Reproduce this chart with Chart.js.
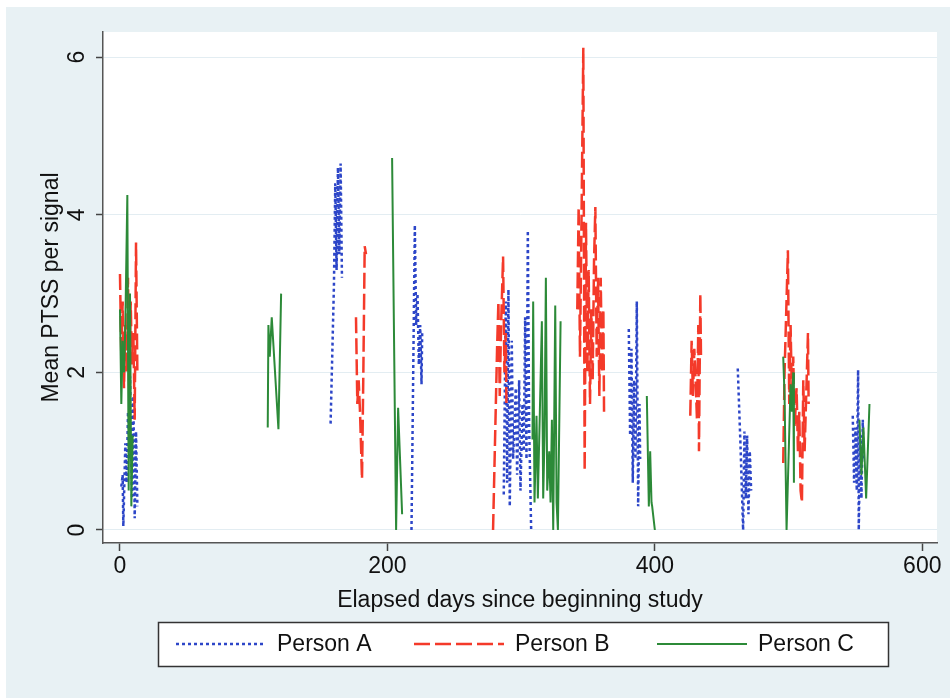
<!DOCTYPE html>
<html>
<head>
<meta charset="utf-8">
<script src="https://cdn.jsdelivr.net/npm/chart.js@4.4.1/dist/chart.umd.min.js"></script>
<style>
  html, body { margin: 0; padding: 0; background: #fff; }
  #wrap { width: 950px; height: 698px; position: relative; }
</style>
</head>
<body>
<div id="wrap"><canvas id="myChart" width="950" height="698"></canvas></div>
<script>
// tick labels
const xTicks = [0, 200, 400, 600];
const yTicks = [0, 2, 4, 6];

// Person A (null = break between measurement bursts)
const daysA = [1, 2, 2.5, 4, 5, 6, 7, 7.5, 9, 10, 11, 12, 13, null,
  157.5, 160, 161, 162, 163, 164, 165, 166, null,
  218, 220.5, 221.5, 222.5, 223.5, 224.5, 225.5, 226, null,
  287, 288.5, 289.5, 290.5, 291.5, 293, 294, 296, 297, 298.5, 299.5, 301, 302, 303, 304, 305, 306, 307.5, null,
  380.5, 381.5, 382.5, 383.5, 384.5, 385.5, 386.5, 387.5, 388.5, 389, null,
  462, 464, 466, 467, 468, 469, 470, 471, 472, null,
  548, 549, 550, 551, 552, 552.5, 553.5, 554.5, 555.5, 556];
const ptssA = [0.55, 0.7, 0.05, 1.1, 0.6, 1.5, 0.9, 1.95, 0.4, 1.7, 0.15, 1.25, 0.3, null,
  1.35, 3.1, 4.4, 3.3, 4.6, 3.5, 4.65, 3.2, null,
  0, 3.87, 2.6, 3.0, 2.1, 2.6, 1.85, 2.5, null,
  0.45, 2.9, 0.6, 3.05, 0.3, 2.4, 0.9, 1.8, 0.7, 1.9, 0.5, 1.6, 1.0, 2.7, 0.9, 3.8, 1.3, 0, null,
  2.55, 1.2, 2.3, 0.6, 1.9, 0.9, 2.9, 0.3, 1.6, 0.9, null,
  2.05, 1.1, 0, 1.25, 0.4, 1.2, 0.2, 1.0, 0.5, null,
  1.45, 0.6, 1.3, 0.5, 2.03, 0, 1.2, 0.4, 1.4, 0.9];

// Person B
const daysB = [0, 1, 2, 3, 4, 5, 6, 7, 8, 9, 10, 11, 12, 13, null,
  176.5, 177.5, 178.5, 179.5, 181, 182, 183, 184, null,
  279, 282, 283, 284, 285, 286.5, 287.5, 288.5, 289, null,
  342, 343, 344, 345, 346.5, 347.5, 348.5, 349.5, 350.5, 351.5, 352.5, 353.5, 354.5, 355.5, 356.5, 357.5, 358.5, 359.5, 360.5, 361.5, 362, null,
  426.5, 427.5, 428.5, 429.5, 430.5, 431.5, 432.5, 433, 434, 434.5, null,
  496, 497, 499.5, 500.5, 501.5, 502.5, 503.5, 504.5, 506, 507, 508, 509, 510, 511, 512, 514.5, 515];
const ptssB = [3.25, 2.2, 2.9, 1.8, 2.6, 2.0, 3.2, 1.7, 2.9, 2.1, 2.5, 1.4, 3.65, 2.0, null,
  2.7, 1.6, 1.9, 1.5, 0.65, 2.0, 3.6, 3.5, null,
  0, 2.3, 2.9, 1.7, 2.6, 3.47, 2.0, 2.5, 1.6, null,
  2.8, 4.1, 2.2, 3.7, 6.12, 0.75, 3.9, 2.0, 3.3, 1.6, 2.8, 1.9, 3.4, 4.1, 2.2, 3.2, 1.7, 3.2, 2.0, 2.8, 1.5, null,
  1.45, 2.4, 1.7, 2.3, 1.9, 1.4, 2.6, 1.0, 3.0, 2.2, null,
  0.85, 2.0, 3.55, 1.6, 2.6, 1.7, 2.2, 1.3, 1.8, 1.0, 1.5, 0.5, 0.35, 1.9, 1.0, 2.5, 1.6];

// Person C
const daysC = [0, 1, 2, 3, 4, 5.5, 6.5, 7.5, 8.5, 9.5, null,
  110.5, 111, 112, 113.5, 118.5, 120.5, null,
  203.5, 206.5, 208, 211, null,
  308.5, 309, 310, 311.5, 312.5, 314, 315.5, 316.5, 317.5, 318.5, 319.5, 321, 322, 323, 324, 325.5, 326.5, 327.5, 329.5, null,
  394, 395.5, 396.5, 397.5, 398, 400, null,
  496, 497, 498.5, 501.5, 502.5, 503.5, 504, null,
  553, 554.5, 556, 558, 560.5];
const ptssC = [2.8, 1.6, 2.4, 2.0, 2.6, 4.25, 0.5, 3.0, 0.3, 1.2, null,
  1.3, 2.6, 2.2, 2.7, 1.28, 3.0, null,
  4.72, 0, 1.55, 0.2, null,
  1.15, 2.9, 0.35, 1.45, 0.4, 1.5, 2.65, 0.4, 1.2, 3.2, 0.5, 1.0, 0.35, 1.4, 0, 2.85, 0.35, 0, 2.65, null,
  1.7, 0.3, 1.0, 0.35, 0.3, 0, null,
  2.2, 1.7, 0, 1.85, 1.5, 2.0, 0.6, null,
  1.4, 0.7, 1.3, 0.4, 1.6];

const FONT = "'Liberation Sans', Arial, Helvetica, sans-serif";
const pts = (days, vals) => days.map((d, i) => ({ x: d, y: vals[i] }));

// backgrounds + framed legend (Stata look)
const stataLook = {
  id: 'stataLook',
  beforeDraw(chart) {
    const { ctx, chartArea: a } = chart;
    ctx.save();
    ctx.fillStyle = '#ffffff';
    ctx.fillRect(0, 0, chart.width, chart.height);
    ctx.fillStyle = '#e8f1f4';
    ctx.fillRect(6, 7, chart.width - 6, chart.height - 7);
    ctx.fillStyle = '#ffffff';
    ctx.fillRect(a.left, a.top, a.right - a.left, a.bottom - a.top);
    ctx.restore();
  },
  afterDraw(chart) {
    const ctx = chart.ctx;
    ctx.save();
    ctx.fillStyle = '#ffffff';
    ctx.fillRect(158, 622, 730, 44);
    ctx.strokeStyle = '#333333';
    ctx.lineWidth = 1.5;
    ctx.strokeRect(158.5, 622.5, 730, 44);
    const starts = [176, 414, 657];
    chart.data.datasets.forEach((ds, i) => {
      const x0 = starts[i], y = 644;
      ctx.beginPath();
      ctx.setLineDash(ds.borderDash || []);
      ctx.strokeStyle = ds.borderColor;
      ctx.lineWidth = ds.borderWidth;
      ctx.moveTo(x0, y);
      ctx.lineTo(x0 + 90, y);
      ctx.stroke();
      ctx.setLineDash([]);
      ctx.fillStyle = '#111';
      ctx.font = '23px ' + FONT;
      ctx.textBaseline = 'middle';
      ctx.fillText(ds.label, x0 + 101, y + 1);
    });
    ctx.restore();
  }
};

const ctx = document.getElementById('myChart').getContext('2d');
new Chart(ctx, {
  type: 'line',
  data: {
    datasets: [
      { label: 'Person A', data: pts(daysA, ptssA), borderColor: '#2d46c8', borderWidth: 2.5, borderDash: [3, 3], order: 3 },
      { label: 'Person B', data: pts(daysB, ptssB), borderColor: '#f43a2a', borderWidth: 2.5, borderDash: [16, 5], order: 2 },
      { label: 'Person C', data: pts(daysC, ptssC), borderColor: '#2c8a38', borderWidth: 2, order: 1 }
    ]
  },
  options: {
    responsive: false,
    animation: false,
    spanGaps: false,
    elements: { point: { radius: 0 }, line: { tension: 0, fill: false } },
    layout: { padding: { left: 0, top: 32, right: 13, bottom: 84 } },
    plugins: { legend: { display: false }, tooltip: { enabled: false } },
    scales: {
      x: {
        type: 'linear',
        min: -12.7,
        max: 611,
        afterBuildTicks: s => { s.ticks = xTicks.map(v => ({ value: v })); },
        afterFit: s => { s.height = 71; },
        grid: { drawOnChartArea: false, tickLength: 8, tickColor: '#444', tickWidth: 1.5 },
        border: { color: '#555', width: 1.5 },
        ticks: { color: '#111', font: { family: FONT, size: 23 }, padding: 2, maxRotation: 0 },
        title: { display: true, text: 'Elapsed days since beginning study', color: '#111', font: { family: FONT, size: 23 }, padding: 0 }
      },
      y: {
        min: -0.165,
        max: 6.32,
        afterBuildTicks: s => { s.ticks = yTicks.map(v => ({ value: v })); },
        afterFit: s => { s.width = 103; },
        grid: { color: '#e3edf2', lineWidth: 1, tickLength: 7, tickColor: '#444', tickWidth: 1.5 },
        border: { color: '#555', width: 1.5 },
        ticks: { color: '#111', font: { family: FONT, size: 23 }, minRotation: 90, maxRotation: 90, crossAlign: 'center', padding: 12 },
        title: { display: true, text: 'Mean PTSS per signal', color: '#111', font: { family: FONT, size: 23 }, padding: { top: 38, bottom: 0 } }
      }
    }
  },
  plugins: [stataLook]
});
</script>
</body>
</html>
